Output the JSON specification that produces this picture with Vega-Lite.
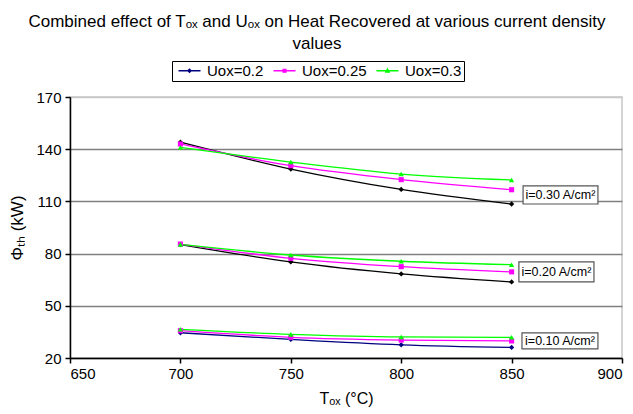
{
  "$schema": "https://vega.github.io/schema/vega-lite/v6.json",
  "autosize": {"type": "none"},
  "width": 552,
  "height": 261,
  "padding": {"left": 70, "top": 97, "right": 11, "bottom": 56},
  "background": "white",
  "config": {
    "font": "Liberation Sans",
    "view": {"stroke": "#c8c8c8", "strokeWidth": 1.5},
    "legend": {
      "orient": "none",
      "legendX": 102,
      "legendY": -36,
      "direction": "horizontal",
      "strokeColor": "black",
      "padding": 2,
      "labelFontSize": 15,
      "labelColor": "black",
      "labelFont": "Liberation Sans",
      "labelOffset": 10,
      "symbolOffset": 8,
      "columnPadding": 5,
      "symbolSize": 121,
      "symbolStrokeWidth": 1.3,
      "symbolOpacity": 1
    }
  },
  "title": {
    "text": ["Combined effect of Tₒₓ and  Uₒₓ on Heat Recovered at various current density", "values"],
    "fontSize": 17,
    "fontWeight": "normal",
    "font": "Liberation Sans",
    "color": "black",
    "anchor": "middle",
    "dx": -29,
    "offset": 8,
    "lineHeight": 22
  },
  "datasets": {
    "series": [
      {"Tox": 700, "Phi": 144.0, "Uox": "Uox=0.2", "i": 0.3},
      {"Tox": 750, "Phi": 128.6, "Uox": "Uox=0.2", "i": 0.3},
      {"Tox": 800, "Phi": 116.9, "Uox": "Uox=0.2", "i": 0.3},
      {"Tox": 850, "Phi": 108.5, "Uox": "Uox=0.2", "i": 0.3},
      {"Tox": 700, "Phi": 143.0, "Uox": "Uox=0.25", "i": 0.3},
      {"Tox": 750, "Phi": 130.5, "Uox": "Uox=0.25", "i": 0.3},
      {"Tox": 800, "Phi": 122.5, "Uox": "Uox=0.25", "i": 0.3},
      {"Tox": 850, "Phi": 116.7, "Uox": "Uox=0.25", "i": 0.3},
      {"Tox": 700, "Phi": 141.0, "Uox": "Uox=0.3", "i": 0.3},
      {"Tox": 750, "Phi": 132.6, "Uox": "Uox=0.3", "i": 0.3},
      {"Tox": 800, "Phi": 125.7, "Uox": "Uox=0.3", "i": 0.3},
      {"Tox": 850, "Phi": 122.3, "Uox": "Uox=0.3", "i": 0.3},
      {"Tox": 700, "Phi": 85.2, "Uox": "Uox=0.2", "i": 0.2},
      {"Tox": 750, "Phi": 75.2, "Uox": "Uox=0.2", "i": 0.2},
      {"Tox": 800, "Phi": 68.3, "Uox": "Uox=0.2", "i": 0.2},
      {"Tox": 850, "Phi": 63.7, "Uox": "Uox=0.2", "i": 0.2},
      {"Tox": 700, "Phi": 85.5, "Uox": "Uox=0.25", "i": 0.2},
      {"Tox": 750, "Phi": 77.3, "Uox": "Uox=0.25", "i": 0.2},
      {"Tox": 800, "Phi": 72.5, "Uox": "Uox=0.25", "i": 0.2},
      {"Tox": 850, "Phi": 69.5, "Uox": "Uox=0.25", "i": 0.2},
      {"Tox": 700, "Phi": 85.3, "Uox": "Uox=0.3", "i": 0.2},
      {"Tox": 750, "Phi": 79.2, "Uox": "Uox=0.3", "i": 0.2},
      {"Tox": 800, "Phi": 75.6, "Uox": "Uox=0.3", "i": 0.2},
      {"Tox": 850, "Phi": 73.6, "Uox": "Uox=0.3", "i": 0.2},
      {"Tox": 700, "Phi": 34.5, "Uox": "Uox=0.2", "i": 0.1},
      {"Tox": 750, "Phi": 30.7, "Uox": "Uox=0.2", "i": 0.1},
      {"Tox": 800, "Phi": 27.6, "Uox": "Uox=0.2", "i": 0.1},
      {"Tox": 850, "Phi": 26.1, "Uox": "Uox=0.2", "i": 0.1},
      {"Tox": 700, "Phi": 35.7, "Uox": "Uox=0.25", "i": 0.1},
      {"Tox": 750, "Phi": 31.9, "Uox": "Uox=0.25", "i": 0.1},
      {"Tox": 800, "Phi": 30.3, "Uox": "Uox=0.25", "i": 0.1},
      {"Tox": 850, "Phi": 29.8, "Uox": "Uox=0.25", "i": 0.1},
      {"Tox": 700, "Phi": 36.5, "Uox": "Uox=0.3", "i": 0.1},
      {"Tox": 750, "Phi": 33.6, "Uox": "Uox=0.3", "i": 0.1},
      {"Tox": 800, "Phi": 32.1, "Uox": "Uox=0.3", "i": 0.1},
      {"Tox": 850, "Phi": 31.9, "Uox": "Uox=0.3", "i": 0.1}
    ],
    "labels": [
      {"label": "i=0.30 A/cm²", "Tox": 855.2, "Tox2": 889.1, "Phi": 118.9, "Phi2": 108.5, "Tc": 872.1, "Pc": 113.7},
      {"label": "i=0.20 A/cm²", "Tox": 853.3, "Tox2": 887.3, "Phi": 75.2, "Phi2": 63.7, "Tc": 870.3, "Pc": 69.5},
      {"label": "i=0.10 A/cm²", "Tox": 854.7, "Tox2": 889.1, "Phi": 34.4, "Phi2": 25.2, "Tc": 871.9, "Pc": 29.8}
    ]
  },
  "layer": [
    {
      "data": {"name": "series"},
      "mark": {"type": "line", "interpolate": "monotone", "strokeWidth": 1.3},
      "encoding": {
        "x": {
          "field": "Tox", "type": "quantitative",
          "scale": {"domain": [650, 900], "nice": false, "zero": false},
          "axis": {
            "values": [650, 700, 750, 800, 850, 900],
            "title": "Tₒₓ (°C)",
            "titleFontSize": 16, "titleFontWeight": "normal", "titleColor": "black", "titlePadding": 9,
            "labelFontSize": 15, "labelColor": "black", "labelPadding": 3,
            "domainColor": "black", "domainWidth": 1.5,
            "tickColor": "black", "tickSize": 5, "tickWidth": 1.5,
            "grid": false
          }
        },
        "y": {
          "field": "Phi", "type": "quantitative",
          "scale": {"domain": [20, 170], "nice": false, "zero": false},
          "axis": {
            "values": [20, 50, 80, 110, 140, 170],
            "title": "Φₜₕ (kW)",
            "titleFontSize": 17, "titleFontWeight": "normal", "titleColor": "black", "titlePadding": 9,
            "labelFontSize": 15, "labelColor": "black", "labelPadding": 4,
            "domainColor": "black", "domainWidth": 1.5,
            "tickColor": "black", "tickSize": 5, "tickWidth": 1.5,
            "grid": true,
            "gridColor": {"condition": {"test": "datum.value == 170", "value": "#c8c8c8"}, "value": "#808080"},
            "gridWidth": 1.5
          }
        },
        "color": {
          "condition": {"test": "datum.i > 0.15 && datum.Uox == 'Uox=0.2'", "value": "#000000"},
          "field": "Uox", "type": "nominal",
          "scale": {"domain": ["Uox=0.2", "Uox=0.25", "Uox=0.3"], "range": ["#000080", "#FF00FF", "#00FF00"]},
          "legend": {
            "title": null,
            "encode": {
              "symbols": {
                "update": {
                  "shape": {"signal": "datum.value == 'Uox=0.2' ? 'M-2,0H2M0,-0.3L0.3,0L0,0.3L-0.3,0Z' : datum.value == 'Uox=0.25' ? 'M-2,0H2M-0.26,-0.26H0.26V0.26H-0.26Z' : 'M-2,0H2M0,-0.32L0.3,0.24H-0.3Z'"},
                  "stroke": {"signal": "datum.value == 'Uox=0.2' ? '#000080' : datum.value == 'Uox=0.25' ? '#FF00FF' : '#00FF00'"},
                  "fill": {"signal": "datum.value == 'Uox=0.2' ? '#000080' : datum.value == 'Uox=0.25' ? '#FF00FF' : '#00FF00'"},
                  "strokeWidth": {"value": 1.3},
                  "opacity": {"value": 1}
                }
              }
            }
          }
        },
        "detail": {"field": "i", "type": "nominal"}
      }
    },
    {
      "data": {"name": "series"},
      "transform": [{"filter": "datum.Uox == 'Uox=0.2'"}],
      "mark": {"type": "point", "filled": true, "size": 28, "opacity": 1, "shape": "diamond"},
      "encoding": {
        "x": {"field": "Tox", "type": "quantitative"},
        "y": {"field": "Phi", "type": "quantitative"},
        "color": {
          "condition": {"test": "datum.i > 0.15", "value": "#000000"},
          "value": "#000080"
        }
      }
    },
    {
      "data": {"name": "series"},
      "transform": [{"filter": "datum.Uox == 'Uox=0.25'"}],
      "mark": {"type": "point", "filled": true, "size": 26, "opacity": 1, "shape": "square", "color": "#FF00FF"},
      "encoding": {
        "x": {"field": "Tox", "type": "quantitative"},
        "y": {"field": "Phi", "type": "quantitative"}
      }
    },
    {
      "data": {"name": "series"},
      "transform": [{"filter": "datum.Uox == 'Uox=0.3'"}],
      "mark": {"type": "point", "filled": true, "size": 28, "opacity": 1, "shape": "triangle-up", "color": "#00FF00"},
      "encoding": {
        "x": {"field": "Tox", "type": "quantitative"},
        "y": {"field": "Phi", "type": "quantitative"}
      }
    },
    {
      "data": {"name": "labels"},
      "mark": {"type": "rect", "fill": "white", "stroke": "#555555", "strokeWidth": 1.2},
      "encoding": {
        "x": {"field": "Tox", "type": "quantitative"},
        "x2": {"field": "Tox2"},
        "y": {"field": "Phi", "type": "quantitative"},
        "y2": {"field": "Phi2"}
      }
    },
    {
      "data": {"name": "labels"},
      "mark": {"type": "text", "fontSize": 12.5, "color": "black", "font": "Liberation Sans", "align": "center", "baseline": "middle"},
      "encoding": {
        "x": {"field": "Tc", "type": "quantitative"},
        "y": {"field": "Pc", "type": "quantitative"},
        "text": {"field": "label"}
      }
    }
  ]
}
